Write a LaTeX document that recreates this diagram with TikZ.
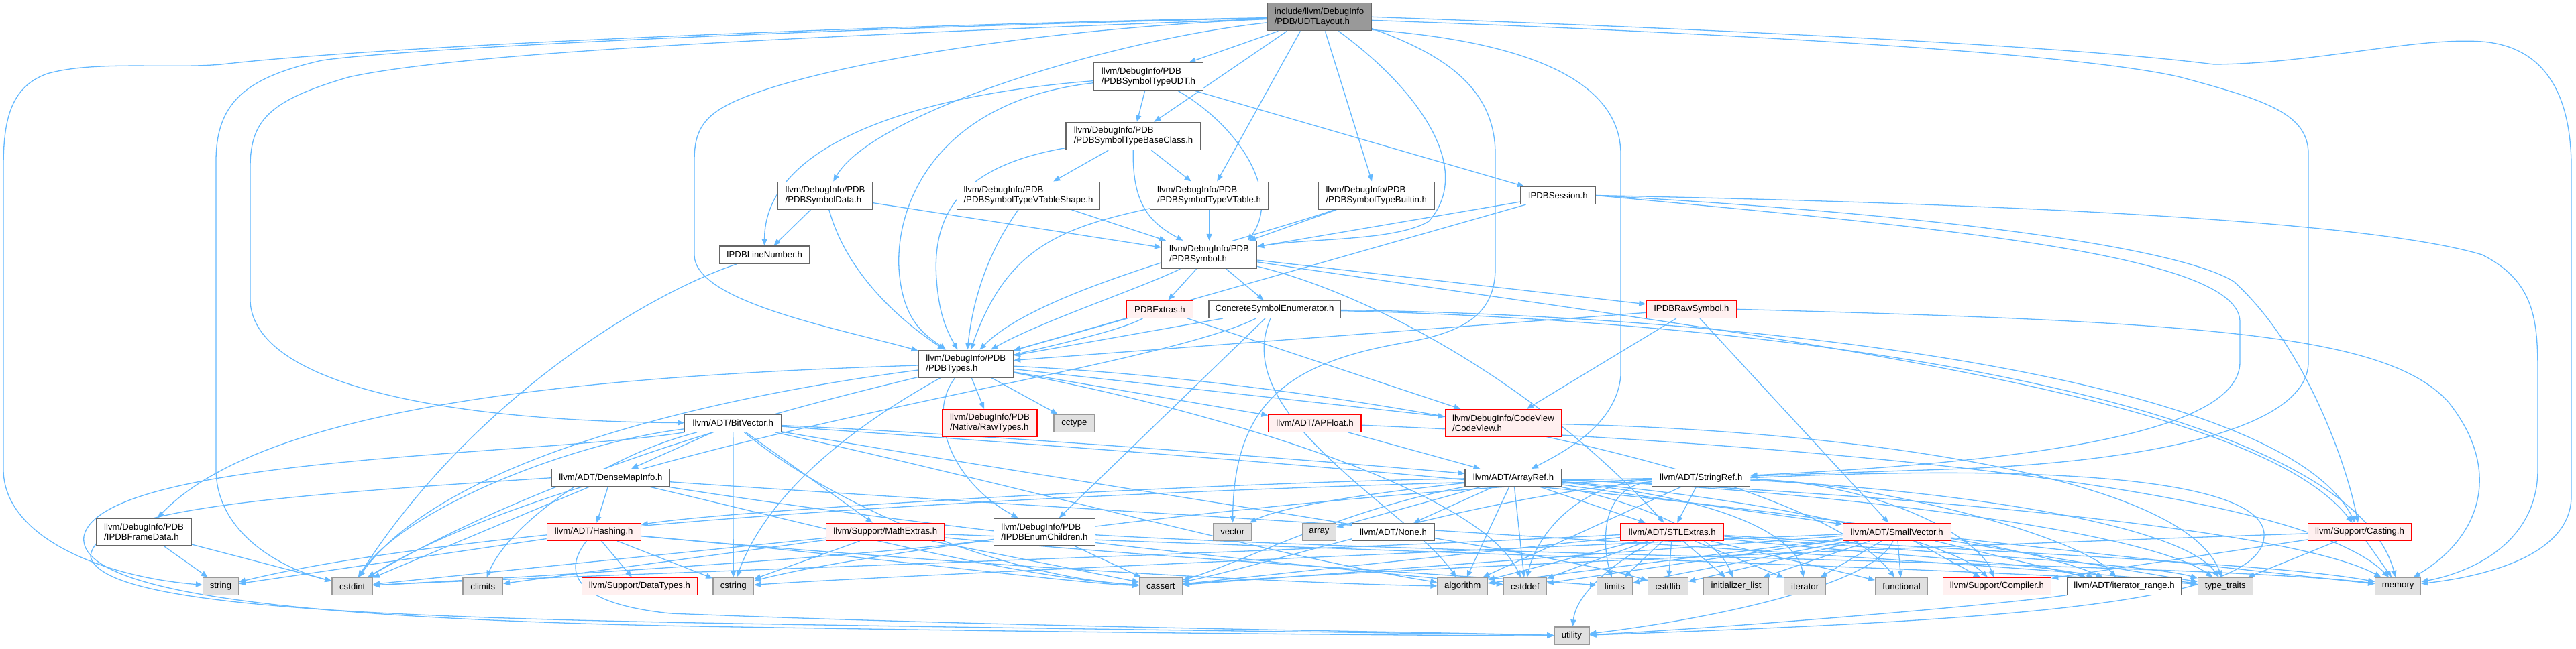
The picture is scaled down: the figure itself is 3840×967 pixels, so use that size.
\documentclass[tikz,border=0pt]{standalone}
\usepackage{fontspec}
\newfontfamily\lblfont{Liberation Sans}
\usetikzlibrary{arrows.meta}
\definecolor{edgec}{HTML}{63B8FF}
\definecolor{gfill}{HTML}{E0E0E0}
\definecolor{gdraw}{HTML}{999999}
\definecolor{wdraw}{HTML}{666666}
\definecolor{rfill}{HTML}{FFF0F0}
\definecolor{rdraw}{HTML}{FF0000}
\definecolor{rootfill}{HTML}{999999}
\pgfdeclarelayer{bg}
\pgfsetlayers{bg,main}
\tikzset{
  nd/.style={draw=wdraw, fill=white, line width=1.3pt, inner sep=0pt, minimum height=26pt,
    font=\lblfont\fontsize{13.2}{15}\selectfont, align=center, text=black},
  nd2/.style={nd, minimum height=41pt, align=left},
  gr/.style={nd, draw=gdraw, fill=gfill},
  rd/.style={nd, draw=rdraw, fill=rfill},
  rd2/.style={nd2, draw=rdraw, fill=rfill},
  rt/.style={nd2, draw=wdraw, fill=rootfill},
  e/.style={draw=edgec, line width=1.3pt, -{Triangle[length=10pt,width=8pt]}}
}
\begin{document}
\begin{tikzpicture}[x=1pt,y=-1pt]
\useasboundingbox (0,0) rectangle (3840,967);
% ---------- nodes ----------
\node[rt, minimum width=155pt] (root) at (1966.5,25.3) {include/llvm/DebugInfo\\/PDB/UDTLayout.h};
\node[nd2, minimum width=163pt] (udt) at (1712,114.3) {llvm/DebugInfo/PDB\\/PDBSymbolTypeUDT.h};
\node[nd2, minimum width=201pt] (base) at (1689.5,203) {llvm/DebugInfo/PDB\\/PDBSymbolTypeBaseClass.h};
\node[nd2, minimum width=142pt] (sdata) at (1230,291.7) {llvm/DebugInfo/PDB\\/PDBSymbolData.h};
\node[nd2, minimum width=213pt] (vtshape) at (1533,291.7) {llvm/DebugInfo/PDB\\/PDBSymbolTypeVTableShape.h};
\node[nd2, minimum width=176pt] (vtable) at (1802.6,291.7) {llvm/DebugInfo/PDB\\/PDBSymbolTypeVTable.h};
\node[nd2, minimum width=173pt] (builtin) at (2051.7,291.7) {llvm/DebugInfo/PDB\\/PDBSymbolTypeBuiltin.h};
\node[nd, minimum width=111.5pt] (session) at (2322.3,291.5) {IPDBSession.h};
\node[nd, minimum width=133.5pt] (linenum) at (1139.5,380) {IPDBLineNumber.h};
\node[nd2, minimum width=142pt] (symbol) at (1802.6,380) {llvm/DebugInfo/PDB\\/PDBSymbol.h};
\node[rd, minimum width=99pt] (extras) at (1729,461.3) {PDBExtras.h};
\node[nd, minimum width=196pt] (concrete) at (1900,461.3) {ConcreteSymbolEnumerator.h};
\node[rd, minimum width=135pt] (rawsym) at (2521.4,461.3) {IPDBRawSymbol.h};
\node[nd2, minimum width=141.5pt] (types) at (1439.8,542.7) {llvm/DebugInfo/PDB\\/PDBTypes.h};
\node[nd, minimum width=144pt] (bitvec) at (1092.8,631.2) {llvm/ADT/BitVector.h};
\node[rd2, minimum width=141pt] (rawtypes) at (1475.6,631) {llvm/DebugInfo/PDB\\/Native/RawTypes.h};
\node[gr, minimum width=61pt] (cctype) at (1601.4,631.2) {cctype};
\node[rd, minimum width=138pt] (apfloat) at (1960,631.2) {llvm/ADT/APFloat.h};
\node[rd2, minimum width=173pt] (codeview) at (2241,631) {llvm/DebugInfo/CodeView\\/CodeView.h};
\node[nd, minimum width=176pt] (densemap) at (910.5,712.7) {llvm/ADT/DenseMapInfo.h};
\node[nd, minimum width=144pt] (arrayref) at (2256,712.7) {llvm/ADT/ArrayRef.h};
\node[nd, minimum width=146pt] (stringref) at (2535.7,712.7) {llvm/ADT/StringRef.h};
\node[nd2, minimum width=141.5pt] (framedata) at (214.6,793.5) {llvm/DebugInfo/PDB\\/IPDBFrameData.h};
\node[rd, minimum width=140pt] (hashing) at (885.2,793.3) {llvm/ADT/Hashing.h};
\node[rd, minimum width=176pt] (mathext) at (1319.8,793.3) {llvm/Support/MathExtras.h};
\node[nd2, minimum width=151pt] (enumch) at (1557,793.5) {llvm/DebugInfo/PDB\\/IPDBEnumChildren.h};
\node[gr, minimum width=57pt] (vector) at (1837.2,793.3) {vector};
\node[gr, minimum width=50pt] (array) at (1966.5,793.3) {array};
\node[nd, minimum width=123pt] (none) at (2077,793.3) {llvm/ADT/None.h};
\node[rd, minimum width=154pt] (stlext) at (2492.8,793.3) {llvm/ADT/STLExtras.h};
\node[rd, minimum width=161pt] (smallvec) at (2827.8,793.3) {llvm/ADT/SmallVector.h};
\node[rd, minimum width=154pt] (casting) at (3517.5,793.3) {llvm/Support/Casting.h};
\node[gr, minimum width=53pt] (string) at (329,874.5) {string};
\node[gr, minimum width=60.5pt] (cstdint) at (525.2,874.5) {cstdint};
\node[gr, minimum width=59.5pt] (climits) at (719.8,874.5) {climits};
\node[rd, minimum width=172.5pt] (datatypes) at (953.4,874.5) {llvm/Support/DataTypes.h};
\node[gr, minimum width=60.6pt] (cstring) at (1093.2,874.5) {cstring};
\node[gr, minimum width=63.7pt] (cassert) at (1730.3,874.5) {cassert};
\node[gr, minimum width=74.7pt] (algorithm) at (2180.3,874.5) {algorithm};
\node[gr, minimum width=63.7pt] (cstddef) at (2273.4,874.5) {cstddef};
\node[gr, minimum width=52.7pt] (limits) at (2406.9,874.5) {limits};
\node[gr, minimum width=60pt] (cstdlib) at (2486.4,874.5) {cstdlib};
\node[gr, minimum width=96.8pt] (initlist) at (2588.1,874.5) {initializer\_list};
\node[gr, minimum width=62pt] (iterator) at (2690.6,874.5) {iterator};
\node[gr, minimum width=78pt] (functional) at (2834.6,874.5) {functional};
\node[rd, minimum width=161pt] (compiler) at (2977,874.5) {llvm/Support/Compiler.h};
\node[nd, minimum width=170pt] (itrange) at (3166.6,874.5) {llvm/ADT/iterator\_range.h};
\node[gr, minimum width=82pt] (typetraits) at (3317.3,874.5) {type\_traits};
\node[gr, minimum width=68pt] (memory) at (3574.7,874.5) {memory};
\node[gr, minimum width=52pt] (utility) at (2342.9,948) {utility};
% ---------- edges ----------
\begin{pgfonlayer}{bg}
% root
\draw[e] (root) .. controls (1400,35) and (600,65) .. (330,96) .. controls (250,103) and (140,90) .. (70,110) .. controls (15,130) and (5,180) .. (5,250) -- (5,700) .. controls (5,800) and (150,860) .. (string);
\draw[e] (root) .. controls (1300,40) and (620,70) .. (480,90) .. controls (370,115) and (322,150) .. (322,240) -- (322,700) .. controls (322,790) and (410,845) .. (cstdint);
\draw[e] (root) .. controls (1300,50) and (700,75) .. (520,115) .. controls (400,150) and (373,180) .. (373,250) -- (373,450) .. controls (380,570) and (650,628) .. (bitvec);
\draw[e] (root) .. controls (1500,45) and (1150,110) .. (1070,165) .. controls (1040,185) and (1035,210) .. (1035,240) -- (1035,380) .. controls (1035,450) and (1250,490) .. (types);
\draw[e] (root) .. controls (1650,60) and (1300,170) .. (sdata);
\draw[e] ([xshift=17pt]root.south west) -- (udt);
\draw[e] ([xshift=30pt]root.south west) -- (base);
\draw[e] ([xshift=50pt]root.south west) -- (vtable);
\draw[e] ([xshift=87pt]root.south west) -- (builtin);
\draw[e] ([xshift=107pt]root.south west) .. controls (2110,130) and (2200,250) .. (2130,330) .. controls (2080,360) and (1950,355) .. (symbol);
\draw[e] ([yshift=4pt]root.south east) .. controls (2150,80) and (2229,130) .. (2229,230) -- (2229,400) .. controls (2229,470) and (2180,495) .. (2100,510) .. controls (1920,540) and (1840,600) .. (vector);
\draw[e] ([yshift=2pt]root.south east) .. controls (2250,60) and (2416,110) .. (2416,230) -- (2416,560) .. controls (2410,630) and (2340,670) .. (arrayref);
\draw[e] (root.east) .. controls (2600,45) and (3100,70) .. (3300,96) .. controls (3450,95) and (3600,55) .. (3700,62) .. controls (3800,70) and (3833,150) .. (3833,250) -- (3833,740) .. controls (3833,830) and (3700,860) .. (memory);
\draw[e] ([yshift=-5pt]root.east) .. controls (2600,50) and (3100,80) .. (3250,115) .. controls (3380,150) and (3441,170) .. (3441,230) -- (3441,540) .. controls (3441,640) and (3200,690) .. (2900,700) .. controls (2750,705) .. (stringref);
% udt
\draw[e] (udt) .. controls (1380,140) and (1140,210) .. (linenum);
\draw[e] (udt) .. controls (1400,150) and (1335,300) .. (1340,400) .. controls (1345,480) and (1380,500) .. (types);
\draw[e] (udt) -- (base);
\draw[e] ([xshift=44pt]udt.south) .. controls (1850,190) and (1910,290) .. ([xshift=-14pt]symbol.north east);
\draw[e] ([xshift=-13pt]udt.south east) -- ([xshift=6pt]session.north west);
% base
\draw[e] (base) -- (vtshape);
\draw[e] (base) -- (vtable);
\draw[e] (base) .. controls (1688,300) and (1710,330) .. (symbol);
\draw[e] (base) .. controls (1420,250) and (1380,330) .. (1400,450) .. controls (1405,480) and (1415,500) .. (types);
% sdata
\draw[e] (sdata) -- (linenum);
\draw[e] (sdata) -- (symbol);
\draw[e] (sdata) .. controls (1260,400) and (1330,470) .. (types);
% vtshape, vtable, builtin
\draw[e] (vtshape) -- (symbol);
\draw[e] (vtshape) .. controls (1470,380) and (1450,450) .. (types);
\draw[e] (vtable) -- (symbol);
\draw[e] (vtable) .. controls (1580,340) and (1500,370) .. (types);
\draw[e] (builtin) -- (symbol);
\draw[e] (builtin) .. controls (1850,360) and (1550,430) .. (types);
% session
\draw[e] (session) -- (symbol);
\draw[e] (session) -- (types);
\draw[e] (session.east) .. controls (2800,300) and (3500,320) .. (3700,380) .. controls (3780,420) and (3783,480) .. (3783,560) -- (3783,700) .. controls (3783,800) and (3700,850) .. (memory);
\draw[e] (session.east) .. controls (2900,320) and (3250,370) .. (3330,420) .. controls (3440,520) and (3500,700) .. (casting);
\draw[e] (session.east) .. controls (2900,340) and (3339,380) .. (3339,480) -- (3339,540) .. controls (3339,650) and (3000,690) .. (stringref);
% linenum
\draw[e] (linenum) .. controls (960,440) and (700,600) .. (cstdint);
% symbol
\draw[e] (symbol) -- (extras);
\draw[e] (symbol) -- (concrete);
\draw[e] (symbol) -- (rawsym);
\draw[e] (symbol) .. controls (2050,440) and (2300,580) .. (stlext);
\draw[e] (symbol) .. controls (2600,500) and (3350,580) .. (casting);
\draw[e] (symbol) .. controls (1700,430) and (1550,480) .. (types);
% extras
\draw[e] (extras) -- (types);
\draw[e] (extras) -- (codeview);
\draw[e] (extras) .. controls (1600,530) and (1000,600) .. (cstdint);
% concrete
\draw[e] (concrete) -- (types);
\draw[e] (concrete) -- (enumch);
\draw[e] (concrete) .. controls (1700,560) and (900,650) .. (cstdint);
\draw[e] (concrete) .. controls (1830,620) and (2100,760) .. (algorithm);
\draw[e] (concrete) .. controls (2600,470) and (3400,560) .. (casting);
\draw[e] (concrete) .. controls (2700,480) and (3500,600) .. (memory);
% rawsym
\draw[e] (rawsym) -- (types);
\draw[e] (rawsym) -- (codeview);
\draw[e] (rawsym) -- (smallvec);
\draw[e] (rawsym.east) .. controls (3300,480) and (3560,500) .. (3650,600) .. controls (3730,700) and (3700,800) .. (memory);
% types
\draw[e] (types) -- (apfloat);
\draw[e] (types) -- (codeview);
\draw[e] (types) .. controls (1380,620) and (1420,720) .. (enumch);
\draw[e] (types) .. controls (900,560) and (400,600) .. (framedata);
\draw[e] (types) -- (rawtypes);
\draw[e] (types) -- (cctype);
\draw[e] (types) .. controls (1750,600) and (2200,720) .. (cstddef);
\draw[e] (types) .. controls (1000,600) and (650,700) .. (cstdint);
\draw[e] (types) .. controls (1300,620) and (1150,720) .. (cstring);
\draw[e] (types) .. controls (2000,570) and (2700,700) .. (functional);
% bitvec
\draw[e] (bitvec) .. controls (1500,650) and (2000,690) .. (arrayref);
\draw[e] (bitvec) -- (densemap);
\draw[e] (bitvec) .. controls (1800,680) and (2900,760) .. (itrange);
\draw[e] (bitvec) -- (mathext);
\draw[e] (bitvec) .. controls (1500,720) and (1900,830) .. (algorithm);
\draw[e] (bitvec) .. controls (1250,760) and (1500,860) .. (cassert);
\draw[e] (bitvec) .. controls (900,680) and (760,780) .. (climits);
\draw[e] (bitvec) .. controls (850,660) and (600,760) .. (cstdint);
\draw[e] (bitvec) .. controls (1600,720) and (2300,820) .. (cstdlib);
\draw[e] (bitvec) -- (cstring);
\draw[e] (bitvec.south west) .. controls (800,680) and (150,680) .. (125,800) .. controls (115,880) and (400,925) .. (1100,935) .. controls (1700,945) and (2200,948) .. (utility);
% densemap
\draw[e] (densemap) -- (hashing);
\draw[e] (densemap) .. controls (1200,780) and (1500,860) .. (cassert);
\draw[e] (densemap) .. controls (1400,790) and (2000,850) .. (cstddef);
\draw[e] (densemap) -- (cstdint);
\draw[e] (densemap) .. controls (1600,760) and (3000,840) .. (typetraits);
\draw[e] (densemap.west) .. controls (400,740) and (140,760) .. (135,830) .. controls (150,900) and (500,920) .. (1100,930) .. controls (1700,940) and (2200,945) .. (utility);
% hashing
\draw[e] (hashing) -- (datatypes);
\draw[e] (hashing) .. controls (1400,840) and (1900,870) .. (algorithm);
\draw[e] (hashing) .. controls (1300,830) and (1600,870) .. (cassert);
\draw[e] (hashing) -- (cstring);
\draw[e] (hashing) -- (string);
\draw[e] (hashing) .. controls (840,850) and (850,900) .. (1000,915) .. controls (1500,935) and (2100,942) .. (utility);
% mathext
\draw[e] (mathext) -- (climits);
\draw[e] (mathext) -- (cstdint);
\draw[e] (mathext) -- (cstring);
\draw[e] (mathext) -- (cassert);
\draw[e] (mathext) .. controls (1700,830) and (2200,860) .. (limits);
\draw[e] (mathext) .. controls (2000,820) and (3000,850) .. (typetraits);
% enumch
\draw[e] (enumch) -- (cassert);
\draw[e] (enumch) .. controls (1300,830) and (800,860) .. (cstdint);
\draw[e] (enumch) .. controls (2200,830) and (3300,840) .. (memory);
% framedata
\draw[e] (framedata) -- (string);
\draw[e] (framedata) -- (cstdint);
% apfloat, codeview
\draw[e] (apfloat) -- (arrayref);
\draw[e] (apfloat) .. controls (2400,650) and (3400,700) .. (memory);
\draw[e] (codeview) .. controls (2700,640) and (3250,700) .. (typetraits);
% arrayref
\draw[e] (arrayref) .. controls (1800,720) and (1100,760) .. (hashing);
\draw[e] (arrayref) -- (none);
\draw[e] (arrayref) -- (array);
\draw[e] (arrayref) -- (stlext);
\draw[e] (arrayref) -- (smallvec);
\draw[e] (arrayref) .. controls (2600,740) and (2900,800) .. (compiler);
\draw[e] (arrayref) -- (algorithm);
\draw[e] (arrayref) -- (cstddef);
\draw[e] (arrayref) .. controls (2000,760) and (1850,840) .. (cassert);
\draw[e] (arrayref) .. controls (2450,750) and (2560,800) .. (initlist);
\draw[e] (arrayref) .. controls (2600,745) and (2680,810) .. (iterator);
\draw[e] (arrayref) .. controls (2700,730) and (3400,780) .. (memory);
\draw[e] (arrayref) .. controls (2700,730) and (3200,790) .. (typetraits);
\draw[e] (arrayref) .. controls (2000,740) and (1900,760) .. (vector);
% stringref
\draw[e] (stringref) -- (stlext);
\draw[e] (stringref) .. controls (2800,720) and (3100,800) .. (itrange);
\draw[e] (stringref) .. controls (2800,720) and (2950,800) .. (compiler);
\draw[e] (stringref) -- (algorithm);
\draw[e] (stringref) .. controls (2200,740) and (1900,840) .. (cassert);
\draw[e] (stringref) .. controls (2350,720) and (2290,800) .. (cstddef);
\draw[e] (stringref) .. controls (2000,730) and (1300,820) .. (cstring);
\draw[e] (stringref) .. controls (2380,725) and (2390,820) .. (limits);
\draw[e] (stringref) .. controls (2000,720) and (800,760) .. (string);
\draw[e] (stringref) .. controls (2900,730) and (3250,780) .. (typetraits);
\draw[e] (stringref.east) .. controls (3100,690) and (3380,720) .. (3375,800) .. controls (3370,900) and (3000,925) .. (utility);
% stlext
\draw[e] (stlext) .. controls (2700,820) and (3050,840) .. (itrange);
\draw[e] (stlext) -- (algorithm);
\draw[e] (stlext) -- (cassert);
\draw[e] (stlext) -- (cstddef);
\draw[e] (stlext) .. controls (2000,820) and (800,860) .. (cstdint);
\draw[e] (stlext) -- (cstdlib);
\draw[e] (stlext) -- (functional);
\draw[e] (stlext) -- (initlist);
\draw[e] (stlext) -- (iterator);
\draw[e] (stlext) -- (limits);
\draw[e] (stlext) .. controls (2900,820) and (3400,840) .. (memory);
\draw[e] (stlext) .. controls (2800,820) and (3200,840) .. (typetraits);
\draw[e] (stlext) .. controls (2420,830) and (2350,880) .. (utility);
% smallvec
\draw[e] (smallvec) -- (compiler);
\draw[e] (smallvec) -- (itrange);
\draw[e] (smallvec) -- (algorithm);
\draw[e] (smallvec) -- (cassert);
\draw[e] (smallvec) -- (cstddef);
\draw[e] (smallvec) -- (cstdlib);
\draw[e] (smallvec) .. controls (2200,820) and (1300,860) .. (cstring);
\draw[e] (smallvec) -- (functional);
\draw[e] (smallvec) -- (initlist);
\draw[e] (smallvec) -- (iterator);
\draw[e] (smallvec) -- (limits);
\draw[e] (smallvec) -- (memory);
\draw[e] (smallvec) -- (typetraits);
\draw[e] (smallvec) .. controls (2790,880) and (2500,930) .. (utility);
% casting
\draw[e] (casting) -- (compiler);
\draw[e] (casting) .. controls (3000,810) and (2000,850) .. (cassert);
\draw[e] (casting) -- (memory);
\draw[e] (casting) -- (typetraits);
% itrange
\draw[e] (itrange) .. controls (3000,900) and (2600,935) .. (utility);
\end{pgfonlayer}
\end{tikzpicture}
\end{document}
